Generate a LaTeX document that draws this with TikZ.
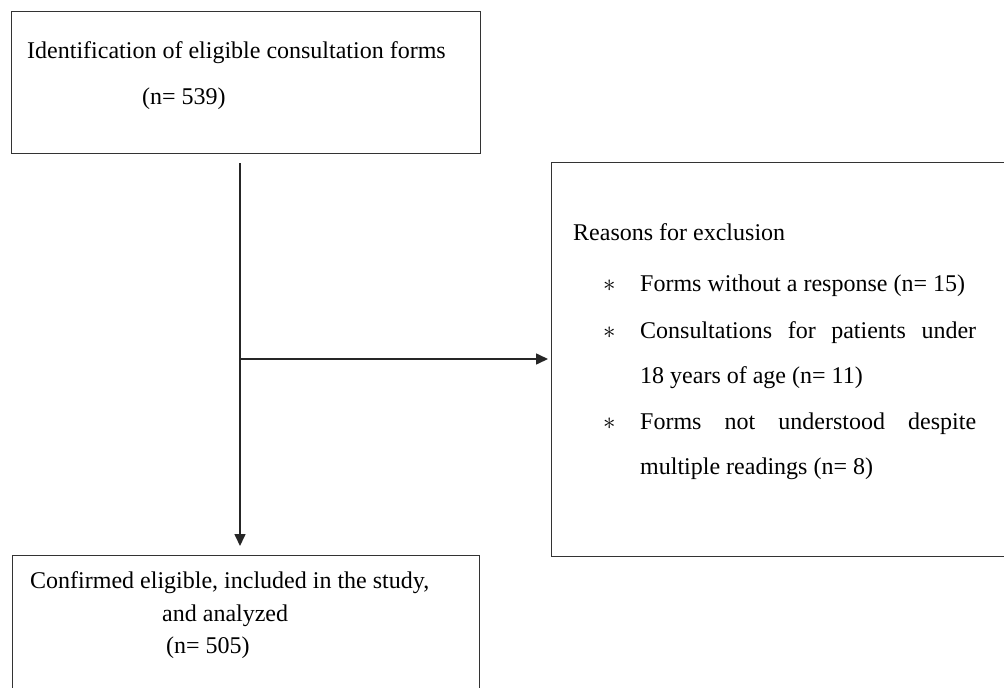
\documentclass[tikz,border=0pt]{standalone}
\usepackage{fontspec}
\setmainfont{Liberation Serif}
\usetikzlibrary{arrows.meta}
\begin{document}
\begin{tikzpicture}[x=1pt,y=-1pt,
  boxstyle/.style={draw=black!80,line width=1.3pt,rectangle,inner sep=0pt,anchor=north west},
  txt/.style={anchor=base west,inner sep=0pt,font=\fontsize{24}{28}\selectfont},
  conn/.style={draw=black!85,line width=1.6pt,-{Triangle[length=12pt,width=11pt]}}]
\useasboundingbox (0,0) rectangle (1004,688);
\clip (0,0) rectangle (1004,688);
\node[boxstyle,minimum width=469pt,minimum height=142pt] (b1) at (11,11) {};
\node[boxstyle,minimum width=470pt,minimum height=394pt] (b2) at (551,162) {};
\node[boxstyle,minimum width=467pt,minimum height=150pt] (b3) at (12,555) {};
% texts box 1
\node[txt] (t1a) at (27,58) {Identification of eligible consultation forms};
\node[txt] (t1b) at (142,104) {(n= 539)};
% texts box 2
\node[txt] (t2a) at (573,240) {Reasons for exclusion};
\node[txt] (s1) at (603,291) {$\ast$};
\node[txt] (t2b) at (640,291) {Forms without a response (n= 15)};
\node[txt] (s2) at (603,338) {$\ast$};
\node[txt] (t2c) at (640,338) {\makebox[336pt][s]{Consultations for patients under}};
\node[txt] (t2d) at (640,383) {18 years of age (n= 11)};
\node[txt] (s3) at (603,429) {$\ast$};
\node[txt] (t2e) at (640,429) {\makebox[336pt][s]{Forms not understood despite}};
\node[txt] (t2f) at (640,474) {multiple readings (n= 8)};
% texts box 3
\node[txt] (t3a) at (30,588) {Confirmed eligible, included in the study,};
\node[txt] (t3b) at (162,621) {and analyzed};
\node[txt] (t3c) at (166,653) {(n= 505)};
% connectors
\coordinate (j) at (240,359);
\draw[conn,shorten <=9pt,shorten >=9pt] (j |- b1.south) -- (j |- b3.north);
\draw[conn,shorten >=3pt] (j) -- (j -| b2.west);
\end{tikzpicture}
\end{document}
